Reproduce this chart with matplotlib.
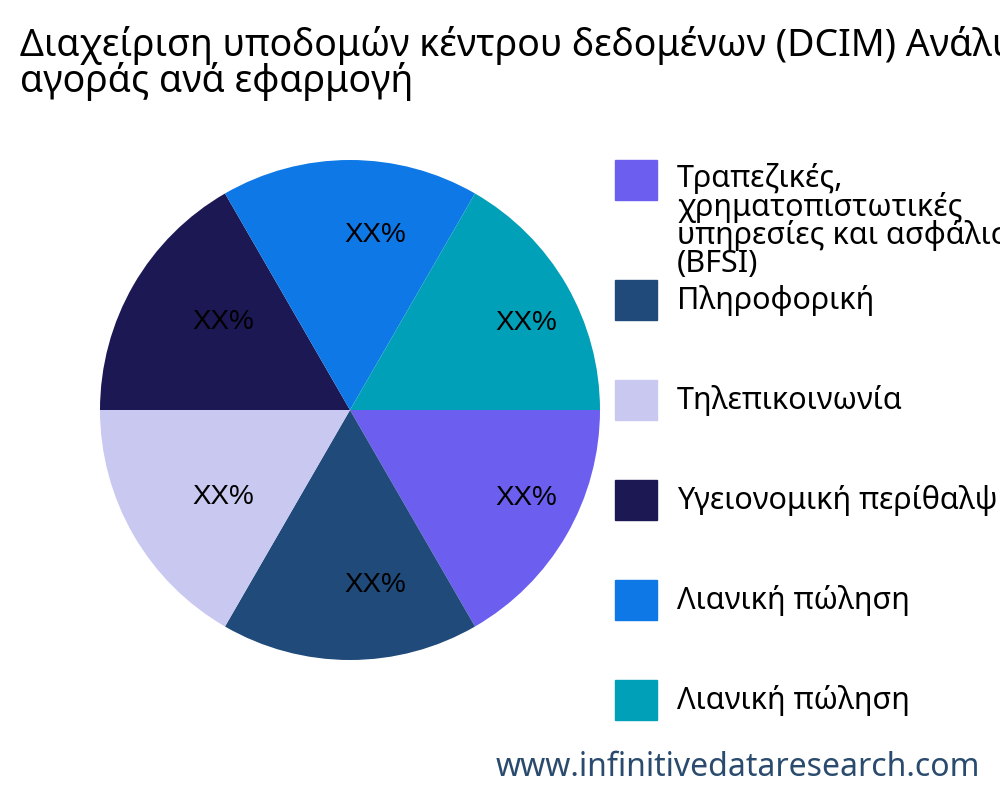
import matplotlib
matplotlib.use("Agg")
import matplotlib.pyplot as plt
from matplotlib.patches import Rectangle

plt.rcParams['font.family'] = ['Noto Sans', 'DejaVu Sans']

title = "Διαχείριση υποδομών κέντρου δεδομένων (DCIM) Ανάλυση\nαγοράς ανά εφαρμογή"
categories = ["Τραπεζικές,\nχρηματοπιστωτικές\nυπηρεσίες και ασφάλιση\n(BFSI)", "Πληροφορική",
              "Τηλεπικοινωνία", "Υγειονομική περίθαλψη", "Λιανική πώληση", "Λιανική πώληση"]
values = [1, 1, 1, 1, 1, 1]
labels = ["XX%"] * 6
colors = ["#6C5FF0", "#1F4A7A", "#C8C8F0", "#1C1854", "#0E78E6", "#00A0B8"]

fig = plt.figure(figsize=(10, 8), dpi=100)
ax = fig.add_axes([0.1, 0.175, 0.5, 0.625])
wedges, texts = ax.pie(values, colors=colors, startangle=0, counterclock=False,
                       labels=labels, labeldistance=0.7,
                       textprops=dict(fontsize=20, family='Liberation Sans', ha='center', va='center'))
for t in texts:
    x, y = t.get_position()
    t.set_position((x + 0.1, y))
ax.set_xlim(-1, 1)
ax.set_ylim(-1, 1)
ax.set_aspect('equal')

fig.text(0.02, 0.968, title, fontsize=27, va='top', ha='left', linespacing=0.9)

ys = [180, 300, 400, 500, 600, 700]
for cat, col, y in zip(categories, colors, ys):
    fig.patches.append(Rectangle((0.615, 1 - (y + 20) / 800), 0.042, 40 / 800,
                                 transform=fig.transFigure, color=col))
    if "\n" in cat:
        fig.text(0.677, 1 - 163 / 800, cat, fontsize=22, va='top', ha='left', linespacing=0.9)
    else:
        fig.text(0.677, 1 - y / 800, cat, fontsize=22, va='center', ha='left')

fig.text(0.98, 1 - 768 / 800, "www.infinitivedataresearch.com", fontsize=23,
         color="#2A4B6E", ha='right', va='center')
fig.savefig("out.png", dpi=100)
